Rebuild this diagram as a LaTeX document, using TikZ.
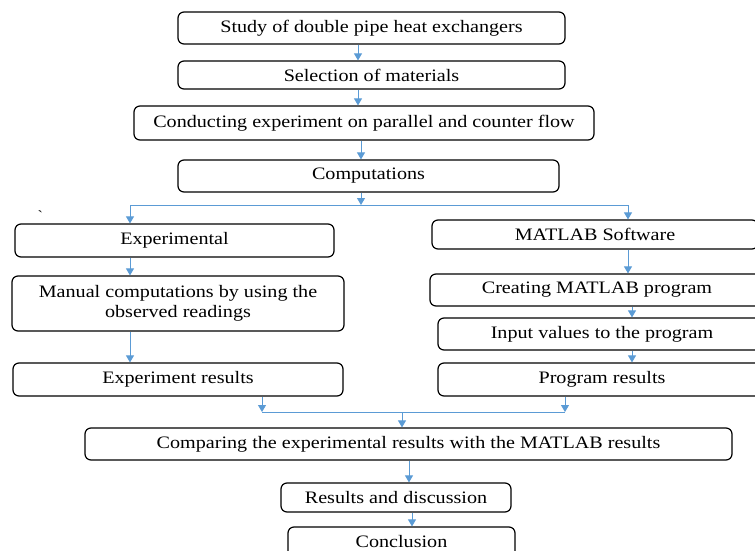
\documentclass[tikz,border=0pt]{standalone}
\usepackage{fontspec}
\setmainfont{Liberation Serif}[FakeStretch=1.15]
\usetikzlibrary{arrows.meta}

\definecolor{flowblue}{RGB}{91,155,213}

\tikzset{
  stepbox/.style={draw=black, line width=1.2pt, rounded corners=6pt, inner sep=0pt,
    align=center, font=\fontsize{17.5}{20}\selectfont},
  flow/.style={draw=flowblue, line width=0.9pt},
  flowarr/.style={flow, -{Triangle[width=8pt,length=7pt]}}
}

\begin{document}
\begin{tikzpicture}[x=1pt, y=-1pt]
\useasboundingbox (0,0) rectangle (755,551);
\clip (0,0) rectangle (755,551);

% upper chain
\node[stepbox, minimum width=387pt, minimum height=32pt] (study) at (371.5,28) {Study of double pipe heat exchangers};
\node[stepbox, minimum width=387pt, minimum height=28pt] (sel) at (371.5,75) {Selection of materials};
\node[stepbox, minimum width=460pt, minimum height=34pt] (cond) at (364,123) {Conducting experiment on parallel and counter flow};
\node[stepbox, minimum width=381pt, minimum height=32pt] (comp) at (368.5,176) {Computations};

% left branch
\node[stepbox, minimum width=319pt, minimum height=33pt] (expt) at (174.5,240.5) {Experimental};
\node[stepbox, minimum width=332pt, minimum height=55pt] (man) at (178,303.5) {Manual computations by using the\\observed readings};
\node[stepbox, minimum width=330pt, minimum height=33pt] (expres) at (178,379.5) {Experiment results};
\node[font=\fontsize{14}{14}\selectfont] (tick) at (40,216) {\textasciigrave};

% right branch
\node[stepbox, minimum width=326pt, minimum height=29pt] (mat) at (595,234.5) {MATLAB Software};
\node[stepbox, minimum width=334pt, minimum height=32pt] (create) at (597,290) {Creating MATLAB program};
\node[stepbox, minimum width=328pt, minimum height=32pt] (input) at (602,334) {Input values to the program};
\node[stepbox, minimum width=328pt, minimum height=33pt] (progres) at (602,379.5) {Program results};

% lower chain
\node[stepbox, minimum width=647pt, minimum height=32pt] (compare) at (408.5,444) {Comparing the experimental results with the MATLAB results};
\node[stepbox, minimum width=230pt, minimum height=29pt] (resd) at (396,497.5) {Results and discussion};
\node[stepbox, minimum width=227pt, minimum height=30pt] (concl) at (401.5,542) {Conclusion};

% split and join points
\coordinate (top) at (358,0);
\coordinate (sm) at (361,205);
\coordinate (sl) at (130,205);
\coordinate (sr) at (628,205);
\coordinate (rr) at (632,0);
\coordinate (jl) at (262,412);
\coordinate (jr) at (565,412);
\coordinate (jm) at (402,412);
\coordinate (bot) at (409,0);
\coordinate (bot2) at (412,0);

% connectors
\draw[flowarr] (top |- study.south) -- (top |- sel.north);
\draw[flowarr] (top |- sel.south) -- (top |- cond.north);
\draw[flowarr] (sm |- cond.south) -- (sm |- comp.north);
\draw[flowarr] (sm |- comp.south) -- (sm);
\draw[flow] (sl) -- (sr);
\draw[flowarr] (sl) -- (sl |- expt.north);
\draw[flowarr] (sr) -- (sr |- mat.north);
\draw[flowarr] (sl |- expt.south) -- (sl |- man.north);
\draw[flowarr] (sl |- man.south) -- (sl |- expres.north);
\draw[flowarr] (sr |- mat.south) -- (sr |- create.north);
\draw[flowarr] (rr |- create.south) -- (rr |- input.north);
\draw[flowarr] (rr |- input.south) -- (rr |- progres.north);
\draw[flowarr] (jl |- expres.south) -- (jl);
\draw[flowarr] (jr |- progres.south) -- (jr);
\draw[flow] (jl) -- (jr);
\draw[flowarr] (jm) -- (jm |- compare.north);
\draw[flowarr] (bot |- compare.south) -- (bot |- resd.north);
\draw[flowarr] (bot2 |- resd.south) -- (bot2 |- concl.north);

\end{tikzpicture}
\end{document}
